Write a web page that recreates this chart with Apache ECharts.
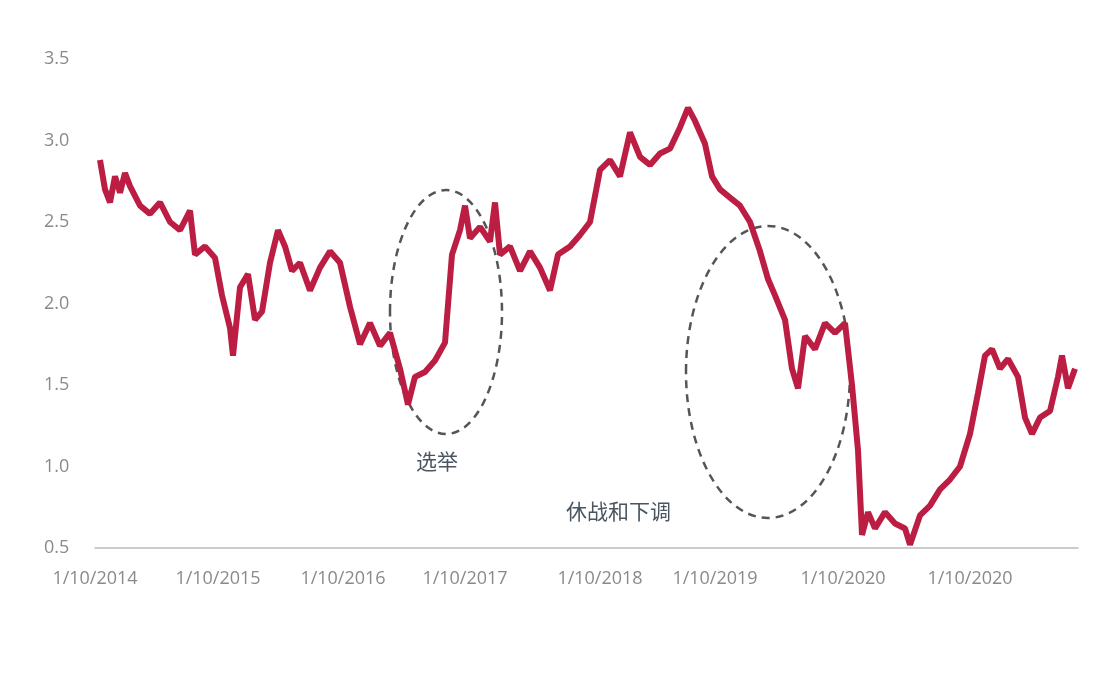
<!DOCTYPE html>
<html><head><meta charset="utf-8">
<script src="https://cdn.jsdelivr.net/npm/echarts@6/dist/echarts.min.js"></script>
<style>html,body{margin:0;background:#fff}#c{width:1110px;height:679px}</style>
</head><body><div id="c"></div>
<script>
const xPos = [100,105,110,115,120,125,130,140,150,160,170,180,190,195,205,215,222,230,233,240,248,255,262,270,278,285,292,300,310,320,330,340,350,360,370,380,390,400,408,415,425,435,445,452,460,465,470,480,490,495,500,510,520,530,540,550,558,570,580,590,600,610,620,630,640,650,660,670,680,688,695,705,712,720,730,740,750,760,768,775,785,792,798,805,815,825,835,845,852,858,862,868,875,885,895,905,910,920,930,940,950,960,970,978,985,992,1000,1008,1018,1025,1032,1040,1050,1058,1062,1068,1075];
const yields = [2.88,2.7,2.62,2.78,2.68,2.8,2.72,2.6,2.55,2.62,2.5,2.45,2.57,2.3,2.35,2.28,2.05,1.85,1.68,2.1,2.18,1.9,1.95,2.25,2.45,2.35,2.2,2.25,2.08,2.22,2.32,2.25,1.98,1.75,1.88,1.74,1.82,1.6,1.38,1.55,1.58,1.65,1.76,2.3,2.45,2.6,2.4,2.47,2.38,2.62,2.3,2.35,2.2,2.32,2.22,2.08,2.3,2.35,2.42,2.5,2.82,2.88,2.78,3.05,2.9,2.85,2.92,2.95,3.08,3.2,3.12,2.98,2.78,2.7,2.65,2.6,2.5,2.32,2.15,2.05,1.9,1.6,1.48,1.8,1.72,1.88,1.82,1.88,1.5,1.1,0.58,0.72,0.62,0.72,0.65,0.62,0.52,0.7,0.76,0.86,0.92,1.0,1.2,1.45,1.68,1.72,1.6,1.66,1.55,1.3,1.2,1.3,1.34,1.55,1.68,1.48,1.6];
const tickPos = [95,218,343,465,600,715,843,970];
const tickText = ['1/10/2014','1/10/2015','1/10/2016','1/10/2017','1/10/2018','1/10/2019','1/10/2020','1/10/2020'];
const chart = echarts.init(document.getElementById('c'));
chart.setOption({
  animation:false,
  grid:{left:95,right:32,top:59,bottom:131},
  xAxis:{type:'value',min:95,max:1078,
    axisLine:{lineStyle:{color:'#bbb',width:1.5}},axisTick:{show:false},splitLine:{show:false},
    axisLabel:{customValues:tickPos,formatter:v=>tickText[tickPos.indexOf(v)],color:'#8a8a8a',fontSize:18,fontFamily:'Open Sans',margin:22}},
  yAxis:{type:'value',min:0.5,max:3.5,interval:0.5,
    axisLine:{show:false},axisTick:{show:false},splitLine:{show:false},
    axisLabel:{color:'#8a8a8a',fontSize:18,fontFamily:'Open Sans',margin:51,formatter:v=>v.toFixed(1),align:'left'}},
  series:[{type:'line',data:xPos.map((x,i)=>[x,yields[i]]),showSymbol:false,
    lineStyle:{color:'#bb1e42',width:6}}],
  graphic:[
    {type:'ellipse',shape:{cx:446,cy:312,rx:56,ry:122},style:{fill:null,stroke:'#555',lineWidth:2.5,lineDash:[8,6]}},
    {type:'ellipse',shape:{cx:768,cy:372,rx:82,ry:146},style:{fill:null,stroke:'#555',lineWidth:2.5,lineDash:[8,6]}},
    {type:'text',left:416,top:451,style:{text:'选举',fill:'#4a5560',fontSize:21,fontFamily:'Noto Sans CJK SC'}},
    {type:'text',left:566,top:501,style:{text:'休战和下调',fill:'#4a5560',fontSize:21,fontFamily:'Noto Sans CJK SC'}}
  ]
});
</script></body></html>
